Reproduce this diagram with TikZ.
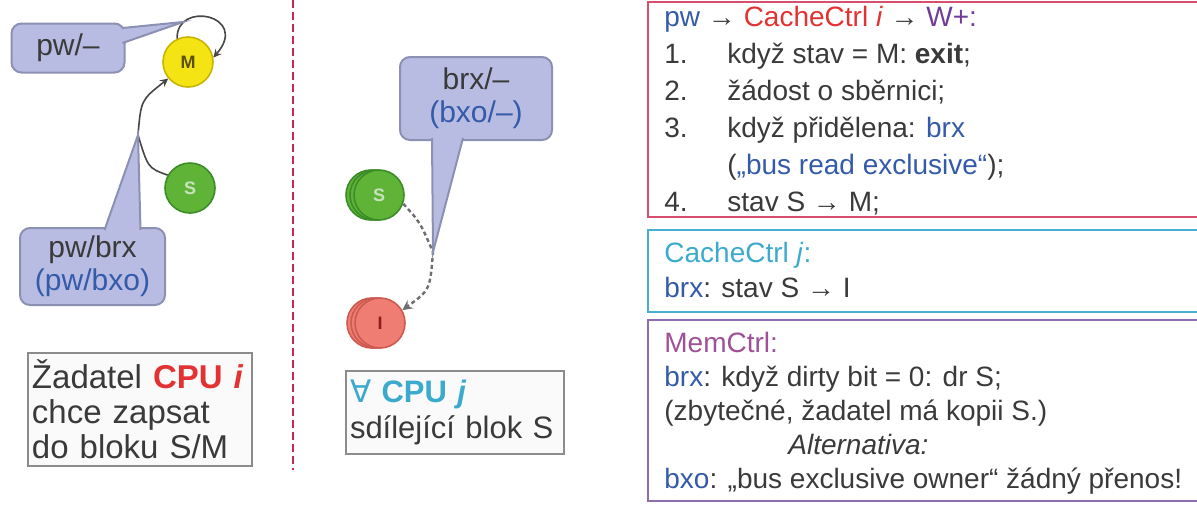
\documentclass[tikz,border=0pt]{standalone}
\usepackage{fontspec}
\setmainfont{Liberation Sans}
\newfontfamily\djv{DejaVu Sans}
\usetikzlibrary{arrows, shadows}

\definecolor{txt}{RGB}{58,58,58}
\definecolor{blueT}{RGB}{52,90,170}
\definecolor{redT}{RGB}{226,50,50}
\definecolor{purpT}{RGB}{112,60,150}
\definecolor{cyanT}{RGB}{60,170,205}
\definecolor{memT}{RGB}{160,80,150}
\definecolor{lav}{RGB}{184,188,226}
\definecolor{lavline}{RGB}{140,144,178}
\definecolor{frR}{RGB}{214,80,110}
\definecolor{frC}{RGB}{70,175,210}
\definecolor{frP}{RGB}{140,110,175}
\definecolor{divred}{RGB}{200,40,80}
\definecolor{yel}{RGB}{245,228,20}
\definecolor{yelline}{RGB}{200,180,0}
\definecolor{grn}{RGB}{95,180,55}
\definecolor{grnline}{RGB}{60,140,40}
\definecolor{pnk}{RGB}{240,125,115}
\definecolor{pnkline}{RGB}{205,90,80}
\definecolor{boxline}{RGB}{140,140,140}

\tikzset{
	stM/.style={circle, draw=yelline, fill=yel, minimum size=25pt, inner sep=0pt, line width=0.8pt,
		font=\fontsize{9}{9}\selectfont\bfseries, text={rgb,255:red,90;green,80;blue,0}},
	stS/.style={circle, draw=grnline, fill=grn, minimum size=25pt, inner sep=0pt, line width=0.8pt,
		font=\fontsize{9}{9}\selectfont\bfseries, text={rgb,255:red,200;green,225;blue,190}},
	stI/.style={circle, draw=pnkline, fill=pnk, minimum size=25pt, inner sep=0pt, line width=0.8pt,
		font=\fontsize{9}{9}\selectfont\bfseries, text={rgb,255:red,140;green,30;blue,30}},
	edge/.style={-stealth, draw={rgb,255:red,70;green,70;blue,70}, line width=0.8pt},
	edgeD/.style={-stealth, draw={rgb,255:red,110;green,110;blue,110}, line width=1.2pt, dash pattern=on 2pt off 1.5pt},
	callbox/.style={draw=lavline, fill=lav, line width=1pt, rounded corners=5pt, align=center,
		font=\fontsize{15}{16.5}\selectfont, text=txt},
	callptr/.style={draw=lavline, fill=lav, line width=1pt},
	infobox/.style={draw=boxline, fill={rgb,255:red,250;green,250;blue,250}, line width=1pt, align=left, text=txt},
	frame/.style={draw=#1, line width=1.3pt},
	listtext/.style={anchor=north west, inner sep=0pt, align=left, text=txt}
}

\begin{document}
\begin{tikzpicture}[x=0.5pt,y=-0.5pt]
	\useasboundingbox (0,0) rectangle (1197,504);

	% CPU i
	\coordinate (tPw) at (183,22);
	\coordinate (kSM) at (138,135);
	\node[stM] (M) at (188,62) {M};
	\node[stS] (S) at (190,188) {S};
	\draw[edge] (M.115) .. controls (176,0) and (250,15) .. (M.10);
	\draw[edge] (S.150) .. controls (148,168) .. (kSM) .. controls (141,100) .. (M.220);

	\node[callbox, minimum width=56.5pt, minimum height=24.5pt] (cPw) at (68,48) {pw/–};
	\draw[callptr] ([xshift=-1.5pt,yshift=10pt]cPw.east) -- (tPw) -- ([xshift=-1.5pt,yshift=2.5pt]cPw.east);
	\node[callbox, minimum width=72.5pt, minimum height=38.5pt] (cPb) at (92.5,266.5) {pw/brx\\{\color{blueT}(pw/bxo)}};
	\draw[callptr] ([xshift=6pt,yshift=-1.5pt]cPb.north) -- (kSM) -- ([xshift=24pt,yshift=-1.5pt]cPb.north);

	\node[infobox, anchor=north west, text width=108pt, minimum height=55.5pt, inner xsep=2pt,
		font=\fontsize{16.5}{17.5}\selectfont] (req) at (27,352)
		{Žadatel {\color{redT}\textbf{CPU \textit{i}}}\\chce zapsat\\do bloku S/M};

	\draw[divred, line width=1.3pt, dash pattern=on 4pt off 2pt] (293,0) -- (293,470);

	% CPU j
	\coordinate (kSI) at (433,252);
	\node[stS, double copy shadow={shadow xshift=-2pt, shadow yshift=0pt, fill=grn, draw=grnline}] (Sj) at (379,195) {S};
	\node[stI, double copy shadow={shadow xshift=-2pt, shadow yshift=0pt, fill=pnk, draw=pnkline}] (Ij) at (380,323) {I};
	\draw[edgeD] (Sj.-20) .. controls (420,222) .. (kSI) .. controls (430,290) .. (Ij.30);

	\node[callbox, minimum width=76pt, minimum height=41.5pt] (cBx) at (476,98.5) {brx/–\\{\color{blueT}(bxo/–)}};
	\draw[callptr] ([xshift=-22pt,yshift=1.5pt]cBx.south) -- (kSI) -- ([xshift=-6.5pt,yshift=1.5pt]cBx.south);

	\node[infobox, anchor=north west, text width=105pt, minimum height=41.5pt, inner xsep=2pt,
		font=\fontsize{15.5}{18}\selectfont] (shr) at (345,370)
		{{\color{cyanT}{\djv ∀} \textbf{CPU \textit{j}}}\\sdílející blok S};

	% controllers
	\draw[frame=frR] (648,2) rectangle (1215,217);
	\draw[frame=frC] (648,230) rectangle (1215,312);
	\draw[frame=frP] (648,320) rectangle (1215,501);

	\node[listtext, font=\fontsize{14}{18.5}\selectfont] (ctrlI) at (664,0) {%
		\begin{tabular}{@{}p{31.5pt}@{}l@{}}
		\multicolumn{2}{@{}l@{}}{{\color{blueT}pw} → {\color{redT}CacheCtrl \textit{i}} → {\color{purpT}W+:}}\\
		1. & když stav = M: \textbf{exit};\\
		2. & žádost o sběrnici;\\
		3. & když přidělena: {\color{blueT}brx}\\
		   & ({\color{blueT}„bus read exclusive“});\\
		4. & stav S → M;
		\end{tabular}};

	\node[listtext, font=\fontsize{14}{17.5}\selectfont] (ctrlJ) at (664,242) {%
		{\color{cyanT}CacheCtrl \textit{j}:}\\
		{\color{blueT}brx}: stav S → I};

	\node[listtext, font=\fontsize{14}{17}\selectfont] (mem) at (664,332) {%
		{\color{memT}MemCtrl:}\\
		{\color{blueT}brx}: když dirty bit = 0: dr S;\\
		(zbytečné, žadatel má kopii S.)\\
		\hspace{62pt}\textit{Alternativa:}\\
		{\color{blueT}bxo}: „bus exclusive owner“ žádný přenos!};
\end{tikzpicture}
\end{document}
